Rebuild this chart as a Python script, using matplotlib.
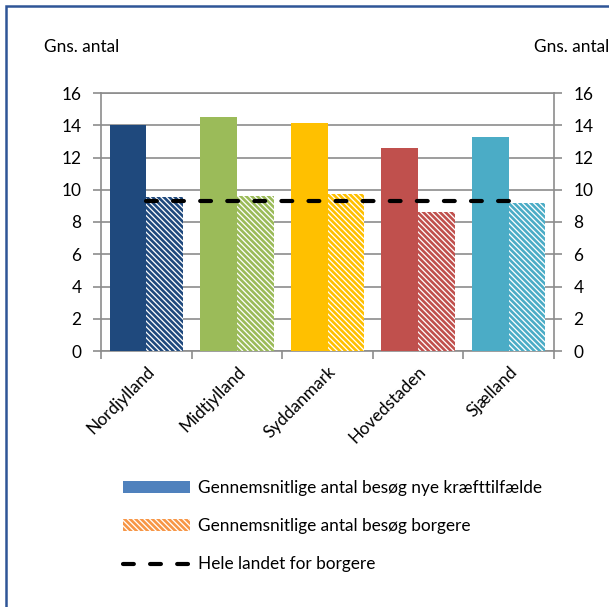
import matplotlib
matplotlib.use("Agg")
import matplotlib.pyplot as plt
import numpy as np
from matplotlib.patches import Rectangle, Patch
from matplotlib.lines import Line2D

categories = ["Nordjylland", "Midtjylland", "Syddanmark", "Hovedstaden", "Sjælland"]
nye_kraeft = [14.0, 14.5, 14.15, 12.6, 13.3]
borgere = [9.55, 9.6, 9.75, 8.65, 9.2]
hele_landet = [9.32, 9.32, 9.32, 9.32, 9.32]
colors = ["#1F497D", "#9BBB59", "#FFC000", "#C0504D", "#4BACC6"]
yticks = [0, 2, 4, 6, 8, 10, 12, 14, 16]
legend_labels = ["Gennemsnitlige antal besøg nye kræfttilfælde",
                 "Gennemsnitlige antal besøg borgere",
                 "Hele landet for borgere"]

plt.rcParams['font.family'] = ['Lato', 'DejaVu Sans']
plt.rcParams['hatch.linewidth'] = 1.9
FS = 12.4
HATCH = "\\" * 6

W, H = 609, 607
fig = plt.figure(figsize=(W / 100, H / 100), dpi=100)
ax = fig.add_axes([101 / W, 1 - 351 / H, 453 / W, 258 / H])

x = np.arange(len(categories))
bw = 0.405
ax.bar(x - bw / 2, nye_kraeft, width=bw, color=colors, linewidth=0, zorder=3)
ax.bar(x + bw / 2, borgere, width=bw, facecolor="white", edgecolor=colors,
       hatch=HATCH, linewidth=0, zorder=3)
ax.plot(x, hele_landet, color="black", linewidth=3, dashes=(2.6, 3.9),
        dash_capstyle="round", zorder=4)

ax.set_xlim(-0.5, len(categories) - 0.5)
ax.set_ylim(0, 16)
ax.set_yticks(yticks)
ax.yaxis.grid(True, color="#8C8C8C", linewidth=1.2, zorder=0)
ax.set_axisbelow(True)
for s in ax.spines.values():
    s.set_color("#8C8C8C")
    s.set_linewidth(1.2)
ax.tick_params(axis="y", length=6, width=1.2, color="#8C8C8C", labelsize=FS,
               labelcolor="black", pad=8, right=True, labelright=True)
ax.set_xticks(np.arange(len(categories) + 1) - 0.5, minor=True)
ax.set_xticks(x)
ax.tick_params(axis="x", which="major", length=0, pad=9)
ax.tick_params(axis="x", which="minor", length=6, width=1.2, color="#8C8C8C")
ax.set_xticklabels(categories, rotation=45, ha="right", va="top",
                   rotation_mode="anchor", fontsize=FS)

fig.text(44 / W, 1 - 47 / H, "Gns. antal", fontsize=FS, va="center", ha="left")
fig.text(534 / W, 1 - 47 / H, "Gns. antal", fontsize=FS, va="center", ha="left")

handles = [Patch(facecolor="#4F81BD", edgecolor="none"),
           Patch(facecolor="white", edgecolor="#F79646", hatch=HATCH, linewidth=0),
           Line2D([0], [0], color="black", linewidth=3, dashes=(2.6, 3.9),
                  dash_capstyle="round")]
fig.legend(handles, legend_labels, loc="upper left",
           bbox_to_anchor=(123 / W, 1 - 480 / H), frameon=False, fontsize=FS,
           handlelength=3.9, handleheight=0.65, handletextpad=0.45,
           labelspacing=1.29, borderpad=0, borderaxespad=0)

fig.patches.append(Rectangle((6 / W, -0.1), 2.0, 1.1 - 6 / H, transform=fig.transFigure,
                             fill=False, edgecolor="#2F5597", linewidth=1.8))

fig.savefig("out.png", dpi=100)
